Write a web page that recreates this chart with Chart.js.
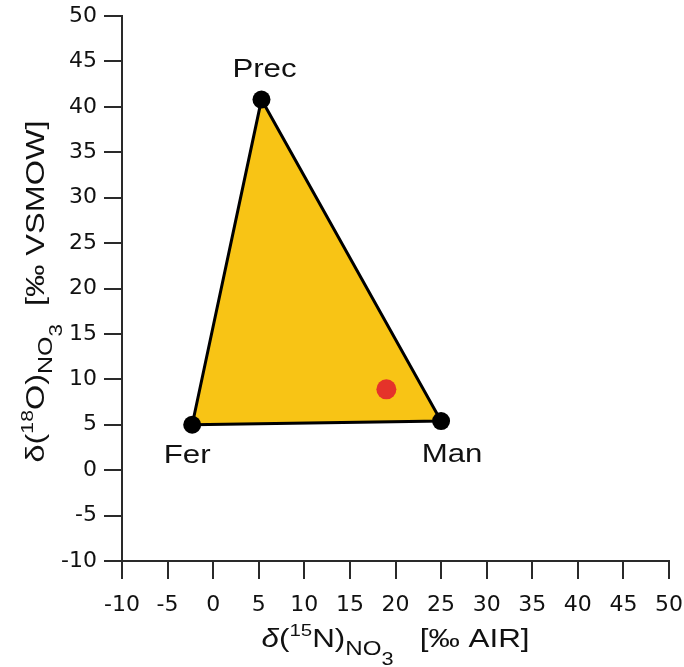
<!DOCTYPE html>
<html>
<head>
<meta charset="utf-8">
<script src="https://cdn.jsdelivr.net/npm/chart.js@4/dist/chart.umd.min.js"></script>
<style>
  html, body { margin: 0; padding: 0; background: #ffffff; }
  #wrap { width: 684px; height: 667px; }
</style>
</head>
<body>
<div id="wrap"><canvas id="c" width="684" height="667"></canvas></div>
<script>
// ---- data ----
const sourceNames = ['Fer', 'Prec', 'Man'];
const sourceN15 = [-2.3, 5.3, 25.0];
const sourceO18 = [5.0, 40.8, 5.4];
const sampleN15 = [19.0];
const sampleO18 = [8.9];
const xTickValues = [-10, -5, 0, 5, 10, 15, 20, 25, 30, 35, 40, 45, 50];
const yTickValues = [-10, -5, 0, 5, 10, 15, 20, 25, 30, 35, 40, 45, 50];

// ---- build datasets ----
const sourcePoints = sourceN15.map((x, i) => ({ x: x, y: sourceO18[i] }));
const trianglePoints = sourcePoints.concat([sourcePoints[0]]);
const samplePoints = sampleN15.map((x, i) => ({ x: x, y: sampleO18[i] }));

const labelOffsets = { Fer: [-5, 38], Prec: [3, -23], Man: [11, 41] };

function drawSegments(ctx, segs, family, targetWidth) {
  let total = 0;
  const widths = segs.map(s => {
    ctx.font = (s.italic ? 'italic ' : '') + s.size + 'px ' + family;
    const w = ctx.measureText(s.t).width;
    total += w;
    return w;
  });
  const sx = targetWidth / total;
  ctx.save();
  ctx.scale(sx, 1);
  let x = -total / 2;
  segs.forEach((s, i) => {
    ctx.font = (s.italic ? 'italic ' : '') + s.size + 'px ' + family;
    ctx.fillText(s.t, x, s.dy || 0);
    x += widths[i];
  });
  ctx.restore();
}

const annotationPlugin = {
  id: 'annotations',
  afterDraw(chart) {
    const ctx = chart.ctx;
    const xs = chart.scales.x, ys = chart.scales.y;
    const ca = chart.chartArea;
    ctx.save();
    ctx.fillStyle = '#111111';
    ctx.textBaseline = 'alphabetic';
    ctx.textAlign = 'left';
    sourceNames.forEach((name, i) => {
      const px = xs.getPixelForValue(sourceN15[i]);
      const py = ys.getPixelForValue(sourceO18[i]);
      const off = labelOffsets[name];
      ctx.save();
      ctx.translate(px + off[0], py + off[1]);
      ctx.scale(1.2, 1);
      ctx.font = '26px "Liberation Sans", Arial, sans-serif';
      ctx.textAlign = 'center';
      ctx.fillText(name, 0, 0);
      ctx.restore();
    });
    const fam = '"Liberation Sans", Arial, sans-serif';
    ctx.save();
    ctx.translate((ca.left + ca.right) / 2, 647);
    drawSegments(ctx, [
      { t: 'δ', size: 26, italic: true },
      { t: '(', size: 26 },
      { t: '15', size: 17, dy: -11 },
      { t: 'N)', size: 26 },
      { t: 'NO', size: 20, dy: 8 },
      { t: '3', size: 18, dy: 18 },
      { t: '   [‰ AIR]', size: 26 }
    ], fam, 268);
    ctx.restore();
    ctx.save();
    ctx.translate(44, (ca.top + ca.bottom) / 2 + 3);
    ctx.rotate(-Math.PI / 2);
    drawSegments(ctx, [
      { t: 'δ', size: 26 },
      { t: '(', size: 26 },
      { t: '18', size: 17, dy: -11 },
      { t: 'O)', size: 26 },
      { t: 'NO', size: 20, dy: 8 },
      { t: '3', size: 18, dy: 18 },
      { t: '  [‰ VSMOW]', size: 26 }
    ], fam, 342);
    ctx.restore();
    ctx.restore();
  }
};

const tickFont = { family: '"DejaVu Sans", sans-serif', size: 22 };

new Chart(document.getElementById('c'), {
  type: 'scatter',
  data: {
    datasets: [
      {
        label: 'Sample',
        data: samplePoints,
        pointRadius: 10,
        pointBackgroundColor: '#E5332A',
        pointBorderWidth: 0,
        order: 1
      },
      {
        label: 'Sources',
        data: sourcePoints,
        pointRadius: 9,
        pointBackgroundColor: '#000000',
        pointBorderWidth: 0,
        order: 2
      },
      {
        label: 'Mixing triangle',
        data: trianglePoints,
        showLine: true,
        fill: 'shape',
        tension: 0,
        borderColor: '#000000',
        borderWidth: 3,
        backgroundColor: '#F8C415',
        pointRadius: 0,
        order: 3
      }
    ]
  },
  options: {
    responsive: false,
    animation: false,
    devicePixelRatio: 1,
    layout: { padding: { top: 16, right: 15, left: 0, bottom: 0 } },
    plugins: { legend: { display: false }, tooltip: { enabled: false } },
    scales: {
      x: {
        type: 'linear',
        min: -10, max: 50,
        afterBuildTicks(scale) { scale.ticks = xTickValues.map(v => ({ value: v })); },
        afterFit(scale) { scale.height = 106; scale.paddingLeft = 0; scale.paddingRight = 0; },
        ticks: { color: '#111111', font: tickFont, padding: 13, maxRotation: 0, autoSkip: false },
        grid: { drawOnChartArea: false, drawTicks: true, tickLength: 18, color: '#2a2a2a', lineWidth: 2 },
        border: { display: true, color: '#2a2a2a', width: 2 },
        title: { display: false }
      },
      y: {
        type: 'linear',
        min: -10, max: 50,
        afterBuildTicks(scale) { scale.ticks = yTickValues.map(v => ({ value: v })); },
        afterFit(scale) { scale.width = 122; scale.paddingTop = 0; scale.paddingBottom = 0; },
        ticks: { color: '#111111', font: tickFont, padding: 7, autoSkip: false },
        grid: { drawOnChartArea: false, drawTicks: true, tickLength: 18, color: '#2a2a2a', lineWidth: 2 },
        border: { display: true, color: '#2a2a2a', width: 2 },
        title: { display: false }
      }
    }
  },
  plugins: [annotationPlugin]
});
</script>
</body>
</html>
